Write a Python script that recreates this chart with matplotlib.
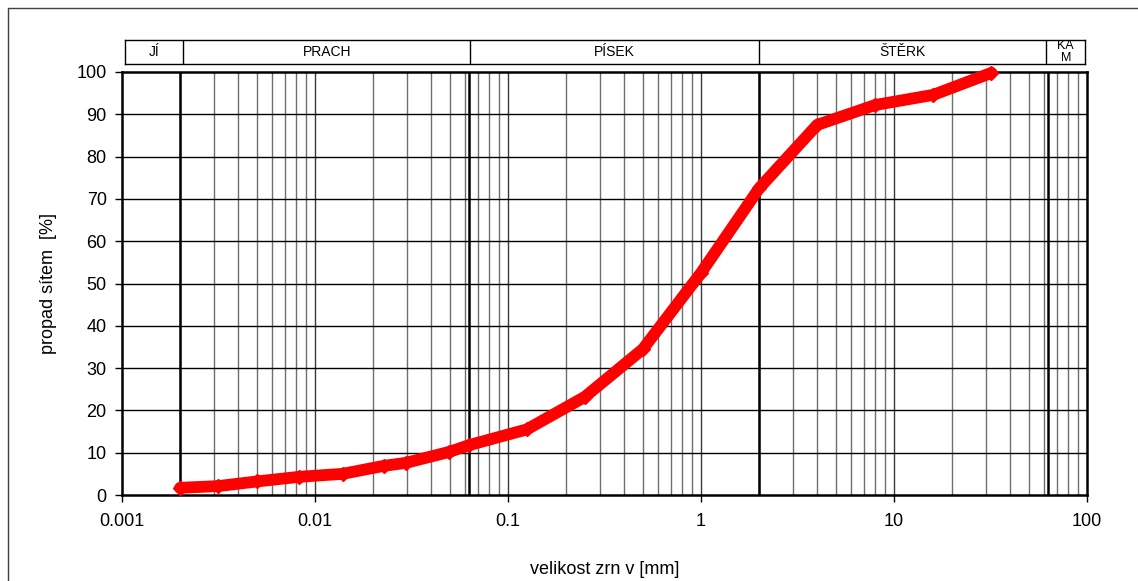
import matplotlib.pyplot as plt
from matplotlib.lines import Line2D
from matplotlib.ticker import FixedLocator, NullFormatter

plt.rcParams['font.family'] = ['Liberation Sans', 'DejaVu Sans']

# grain size [mm] and passing [%]
grain_size = [0.002, 0.00314, 0.005, 0.0083, 0.0139, 0.0228, 0.0296, 0.0497,
              0.063, 0.125, 0.25, 0.5, 1, 2, 4, 8, 16, 32]
passing = [1.7, 2.1, 3.2, 4.3, 5.0, 6.9, 7.6, 10.2,
           11.8, 15.5, 23.2, 34.5, 52.5, 72.5, 87.5, 92.2, 94.6, 99.8]

# soil fraction bands on top
fraction_names = ['JÍ', 'PRACH', 'PÍSEK', 'ŠTĚRK', 'KA\nM']
fraction_bounds = [0.001, 0.002, 0.063, 2, 63, 100]

xticks = [0.001, 0.01, 0.1, 1, 10, 100]
xtick_labels = ['0.001', '0.01', '0.1', '1', '10', '100']
yticks = list(range(0, 101, 10))

W, H = 1138, 581
fig = plt.figure(figsize=(W / 100, H / 100), dpi=100)

# outer frame
fig.add_artist(Line2D([8 / W, 8 / W, 1], [0, 1 - 8 / H, 1 - 8 / H],
                      transform=fig.transFigure, color='#404040', lw=1))

ax = fig.add_axes([122 / W, 1 - 495 / H, 965 / W, 423 / H])
ax.set_xscale('log')
ax.set_xlim(0.001, 100)
ax.set_ylim(0, 100)

# minor vertical grid
minor = [m * 10 ** e for e in range(-3, 2) for m in range(2, 10)]
for v in minor:
    ax.axvline(v, color='#6e6e6e', lw=1, zorder=1)
for v in xticks[1:-1]:
    ax.axvline(v, color='#3a3a3a', lw=1, zorder=1)
for v in fraction_bounds[1:-1]:
    ax.axvline(v, color='black', lw=1.8, zorder=1.5)
for v in yticks[1:-1]:
    ax.axhline(v, color='black', lw=1, zorder=1)

ax.plot(grain_size, passing, color='red', lw=8.5, marker='D', markersize=7,
        solid_joinstyle='round', solid_capstyle='round', zorder=3, clip_on=False)

ax.set_xticks(xticks)
ax.set_xticklabels(xtick_labels)
ax.xaxis.set_minor_locator(FixedLocator([]))
ax.xaxis.set_minor_formatter(NullFormatter())
ax.set_yticks(yticks)
ax.tick_params(axis='both', labelsize=13, length=5, width=1, direction='out')
ax.tick_params(axis='x', pad=8)
ax.tick_params(axis='y', pad=6)
for s in ax.spines.values():
    s.set_linewidth(1.8)

ax.set_ylabel('propad sítem  [%]', fontsize=13, labelpad=14)
ax.set_xlabel('velikost zrn v [mm]', fontsize=13, labelpad=22)

# fraction band
band = fig.add_axes([125 / W, 1 - 64 / H, 960 / W, 24 / H])
band.set_xscale('log')
band.set_xlim(0.001, 100)
band.set_ylim(0, 1)
band.set_xticks([])
band.set_yticks([])
band.xaxis.set_minor_locator(FixedLocator([]))
for s in band.spines.values():
    s.set_linewidth(1)
for i, name in enumerate(fraction_names):
    lo, hi = fraction_bounds[i], fraction_bounds[i + 1]
    if i > 0:
        band.axvline(lo, color='black', lw=1)
    mid = (lo * hi) ** 0.5
    if '\n' in name:
        band.text(mid, 0.5, name, ha='center', va='center', fontsize=9,
                  linespacing=0.9)
    else:
        band.text(mid, 0.5, name, ha='center', va='center', fontsize=10)

fig.savefig('out.png', dpi=100)
